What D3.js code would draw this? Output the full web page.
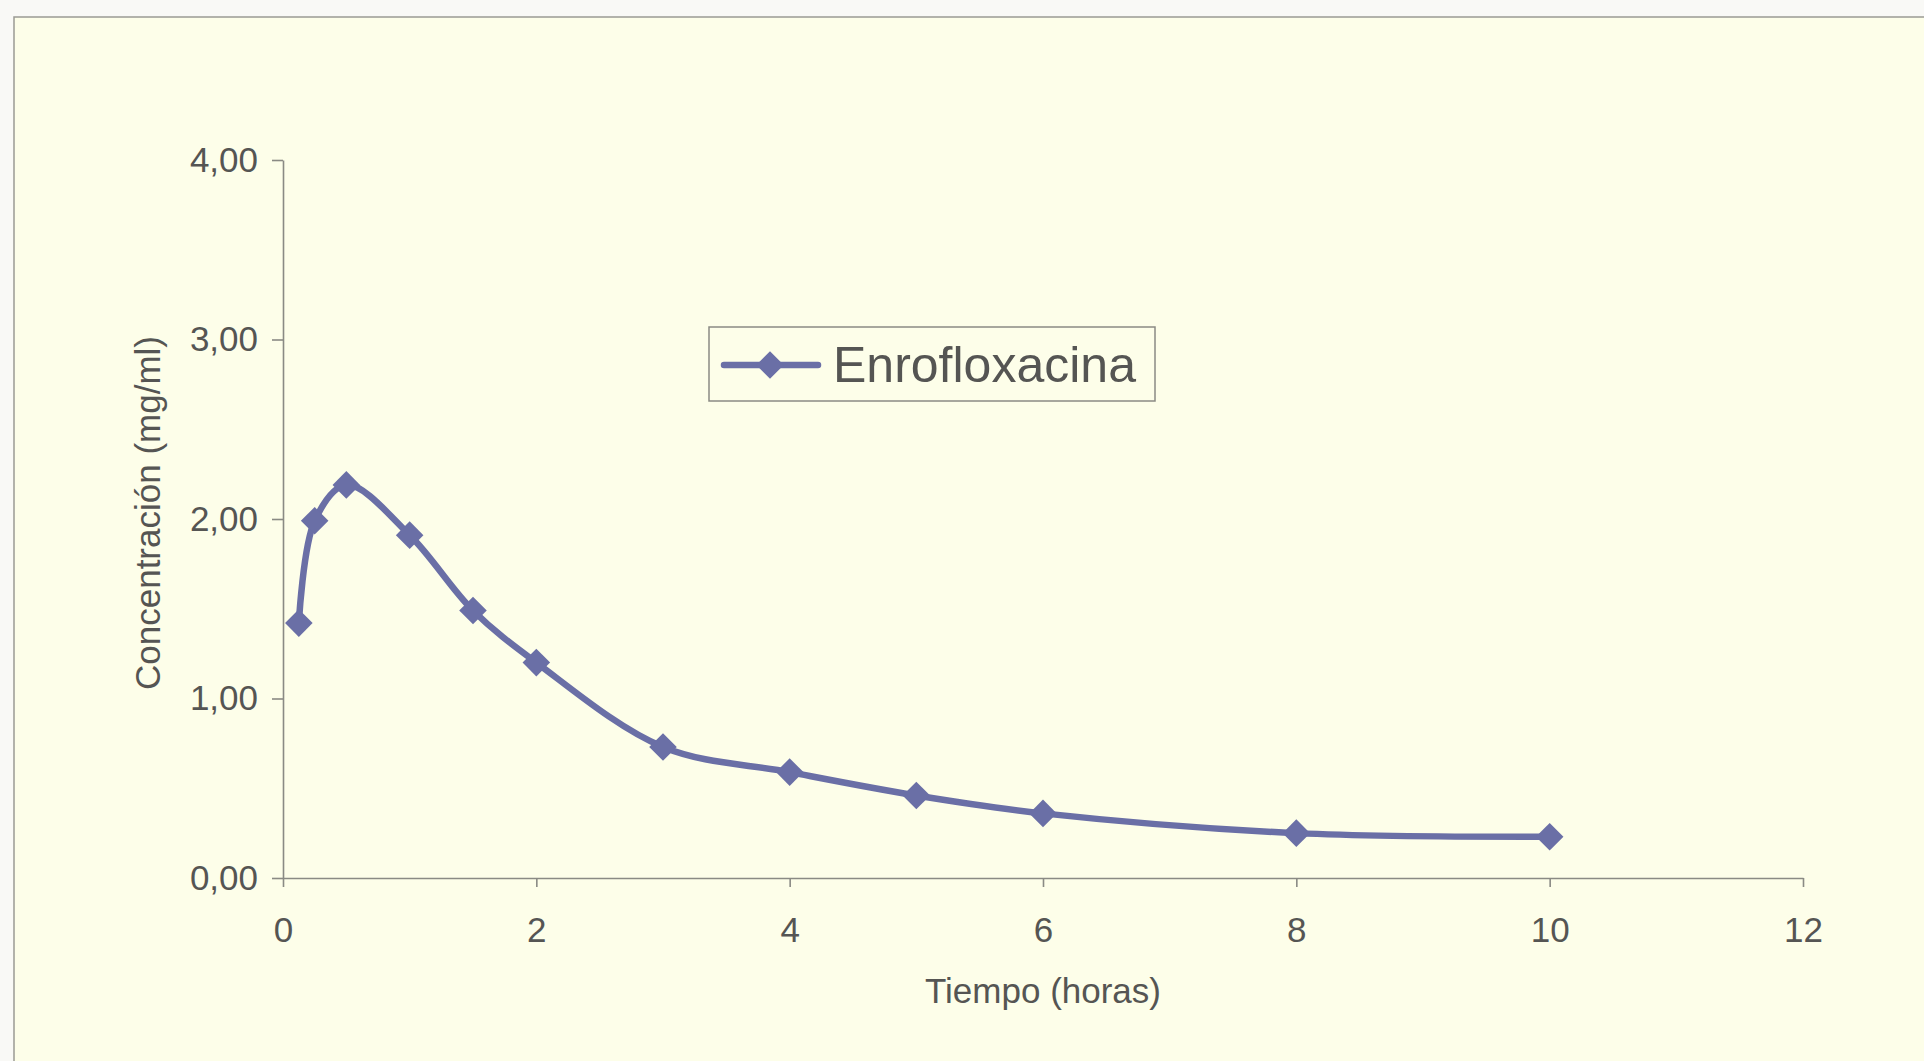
<!DOCTYPE html>
<html>
<head>
<meta charset="utf-8">
<script src="https://cdn.jsdelivr.net/npm/d3@7"></script>
<style>
  html, body { margin: 0; padding: 0; background: #f9f9f6; }
  svg { display: block; }
  text { font-family: "Liberation Sans", Arial, sans-serif; fill: #555553; }
</style>
</head>
<body>
<svg id="chart" width="1924" height="1061"></svg>
<script>
// Tiempo (horas) de cada muestra
const tiempos = [0.125, 0.25, 0.5, 1, 1.5, 2, 3, 4, 5, 6, 8, 10];
// Concentración de enrofloxacina (mg/ml)
const concentraciones = [1.42, 1.99, 2.19, 1.91, 1.49, 1.20, 0.73, 0.59, 0.46, 0.36, 0.25, 0.23];
const serieNombre = "Enrofloxacina";
const xTicks = [0, 2, 4, 6, 8, 10, 12];
const yTicks = [0, 1, 2, 3, 4];
const xTitulo = "Tiempo (horas)";
const yTitulo = "Concentración (mg/ml)";

const svg = d3.select("#chart");
const serieColor = "#6a6fa6";
const ejeColor = "#8a8a84";

// Chart area panel
svg.append("rect")
  .attr("x", 14).attr("y", 17)
  .attr("width", 1924).attr("height", 1061)
  .attr("fill", "#fdfee9")
  .attr("stroke", "#9a9a94").attr("stroke-width", 1.5);

const x = d3.scaleLinear().domain([0, 12]).range([283, 1803]);
const y = d3.scaleLinear().domain([0, 4]).range([878, 160]);

const fmt = d => d3.format(".2f")(d).replace(".", ",");

// Y axis
const gy = svg.append("g")
  .attr("transform", `translate(${x(0)},0)`)
  .call(d3.axisLeft(y).tickValues(yTicks).tickFormat(fmt).tickSize(11).tickSizeOuter(0).tickPadding(14));
// X axis
const gx = svg.append("g")
  .attr("transform", `translate(0,${y(0)})`)
  .call(d3.axisBottom(x).tickValues(xTicks).tickFormat(d3.format("d")).tickSize(9).tickSizeOuter(0).tickPadding(30));

[gx, gy].forEach(g => {
  g.select(".domain").attr("stroke", ejeColor).attr("stroke-width", 1.6);
  g.selectAll(".tick line").attr("stroke", ejeColor).attr("stroke-width", 1.6);
  g.selectAll(".tick text")
    .attr("fill", "#555553")
    .style("font-family", '"Liberation Sans", Arial, sans-serif')
    .style("font-size", "35px");
});

// Axis titles
svg.append("text")
  .attr("x", (x(0) + x(12)) / 2).attr("y", 1003)
  .attr("text-anchor", "middle")
  .style("font-size", "35px")
  .text(xTitulo);

svg.append("text")
  .attr("transform", `translate(160,${(y(0) + y(4)) / 2 - 6}) rotate(-90)`)
  .attr("text-anchor", "middle")
  .style("font-size", "35px")
  .text(yTitulo);

// Series
const datos = tiempos.map((t, i) => ({ t, c: concentraciones[i] }));
const linea = d3.line()
  .x(d => x(d.t)).y(d => y(d.c))
  .curve(d3.curveCatmullRom.alpha(0.5));

svg.append("path")
  .datum(datos)
  .attr("d", linea)
  .attr("fill", "none")
  .attr("stroke", serieColor)
  .attr("stroke-width", 6.5)
  .attr("stroke-linejoin", "round");

const marcador = d3.symbol().type(d3.symbolSquare).size(380);
svg.append("g").selectAll("path")
  .data(datos)
  .join("path")
  .attr("transform", d => `translate(${x(d.t)},${y(d.c)}) rotate(45)`)
  .attr("d", marcador)
  .attr("fill", serieColor);

// Legend
const leyenda = svg.append("g");
leyenda.append("rect")
  .attr("x", 709).attr("y", 327)
  .attr("width", 446).attr("height", 74)
  .attr("fill", "none")
  .attr("stroke", "#8a8a84").attr("stroke-width", 1.5);
leyenda.append("line")
  .attr("x1", 724).attr("x2", 818)
  .attr("y1", 365).attr("y2", 365)
  .attr("stroke", serieColor).attr("stroke-width", 6.5).attr("stroke-linecap", "round");
leyenda.append("path")
  .attr("transform", "translate(770,365) rotate(45)")
  .attr("d", marcador)
  .attr("fill", serieColor);
leyenda.append("text")
  .attr("x", 833).attr("y", 382)
  .style("font-size", "50px")
  .text(serieNombre);
</script>
</body>
</html>
